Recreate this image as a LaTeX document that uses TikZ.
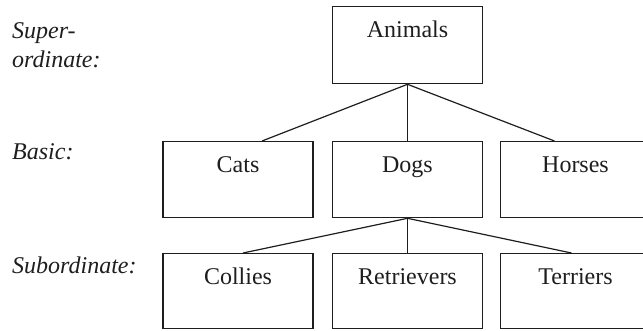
\documentclass[tikz,border=0pt]{standalone}
\usepackage{fontspec}
\setmainfont{Liberation Serif}
\definecolor{ink}{HTML}{1E1E1E}
\begin{document}
\begin{tikzpicture}[x=1pt,y=-1pt,
  catbox/.style={draw=ink, line width=1.3pt, rectangle, inner xsep=0pt, inner ysep=0pt,
    minimum width=150pt, text height=31pt, text depth=45pt, anchor=north,
    text=ink, font=\fontsize{24}{29}\selectfont},
  level/.style={anchor=base west, inner sep=0pt, text=ink,
    font=\fontsize{24}{29}\selectfont\itshape},
  link/.style={draw=ink, line width=1.2pt}]
  \useasboundingbox (0,0) rectangle (643,330);
  \clip (0,0) rectangle (643,330);

  % level labels
  \node[level] (lsuper) at (12,38) {Super-};
  \node[level] (lord)   at (12,67) {ordinate:};
  \node[level] (lbasic) at (12,159) {Basic:};
  \node[level] (lsub)   at (12,273) {Subordinate:};

  % superordinate
  \node[catbox, text depth=46pt] (animals) at (407.5,6) {Animals};

  % basic level
  \node[catbox] (cats)   at (238,141)   {Cats};
  \node[catbox] (dogs)   at (407.5,141) {Dogs};
  \node[catbox] (horses) at (575.5,141) {Horses};

  % subordinate level
  \node[catbox, text depth=44pt] (collies)    at (238,253)   {Collies};
  \node[catbox, text depth=44pt] (retrievers) at (407.5,253) {Retrievers};
  \node[catbox, text depth=44pt] (terriers)   at (575.5,253) {Terriers};

  % hierarchy links
  \draw[link] (animals.south) -- ([xshift=24pt]cats.north);
  \draw[link] (animals.south) -- (dogs.north);
  \draw[link] (animals.south) -- ([xshift=-21pt]horses.north);
  \draw[link] (dogs.south) -- ([xshift=5pt]collies.north);
  \draw[link] (dogs.south) -- (retrievers.north);
  \draw[link] (dogs.south) -- ([xshift=-4pt]terriers.north);
\end{tikzpicture}
\end{document}
